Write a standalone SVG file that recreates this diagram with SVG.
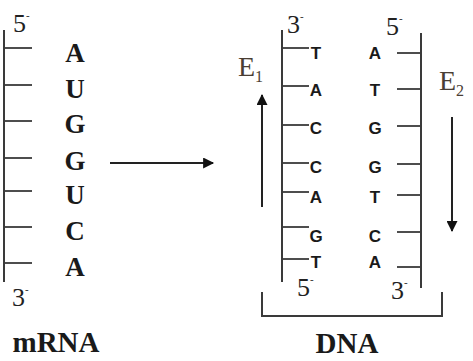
<svg xmlns="http://www.w3.org/2000/svg" width="473" height="361" viewBox="0 0 473 361">
<defs>
<style>
.ln{stroke:#3a3a3a;stroke-width:2;fill:none}
.tk{stroke:#3a3a3a;stroke-width:1.8}
.rna{font-family:"Liberation Serif",serif;font-weight:bold;font-size:27px;fill:#1a1a1a;text-anchor:middle}
.dna{font-family:"Liberation Sans",Arial,sans-serif;font-weight:bold;font-size:17px;fill:#1a1a1a;text-anchor:middle}
.end{font-family:"Liberation Serif",serif;font-size:26px;fill:#222}
.sup{font-size:11px}
.lab{font-family:"Liberation Serif",serif;font-weight:bold;font-size:29px;fill:#1a1a1a;text-anchor:middle}
.e{font-family:"Liberation Serif",serif;font-size:28px;fill:#4a3e34}
.sub{font-size:16px}
</style>
<marker id="ah" viewBox="0 0 10 10" refX="9" refY="5" markerWidth="13" markerHeight="11" markerUnits="userSpaceOnUse" orient="auto">
<path d="M0,0 L10,5 L0,10 z" fill="#111"/>
</marker>
</defs>

<g id="mrna">
<line class="ln" x1="4" y1="30" x2="4" y2="282"/>
<g class="tk">
<line x1="4" y1="48" x2="32" y2="48"/>
<line x1="4" y1="85" x2="32" y2="85"/>
<line x1="4" y1="121" x2="32" y2="121"/>
<line x1="4" y1="158" x2="32" y2="158"/>
<line x1="4" y1="191" x2="32" y2="191"/>
<line x1="4" y1="227" x2="32" y2="227"/>
<line x1="4" y1="263" x2="32" y2="263"/>
</g>
<text class="rna" x="75" y="62">A</text>
<text class="rna" x="75" y="98">U</text>
<text class="rna" x="75" y="133">G</text>
<text class="rna" x="75" y="170">G</text>
<text class="rna" x="75" y="204">U</text>
<text class="rna" x="75" y="240">C</text>
<text class="rna" x="75" y="276">A</text>
<text class="end" x="13" y="32">5<tspan class="sup" dy="-13">-</tspan></text>
<text class="end" x="12" y="306">3<tspan class="sup" dy="-13">-</tspan></text>
<text class="lab" x="56" y="352">mRNA</text>
</g>

<g id="dna">
<line class="ln" x1="282" y1="30" x2="282" y2="282"/>
<line class="ln" x1="421" y1="33" x2="421" y2="288"/>
<g class="tk">
<line x1="282" y1="48" x2="309" y2="48"/>
<line x1="282" y1="86" x2="309" y2="86"/>
<line x1="282" y1="125" x2="309" y2="125"/>
<line x1="282" y1="163" x2="309" y2="163"/>
<line x1="282" y1="192" x2="309" y2="192"/>
<line x1="282" y1="227" x2="309" y2="227"/>
<line x1="282" y1="259" x2="309" y2="259"/>
<line x1="397" y1="53" x2="421" y2="53"/>
<line x1="397" y1="89" x2="421" y2="89"/>
<line x1="397" y1="126" x2="421" y2="126"/>
<line x1="397" y1="164" x2="421" y2="164"/>
<line x1="397" y1="195" x2="421" y2="195"/>
<line x1="397" y1="232" x2="421" y2="232"/>
<line x1="397" y1="267" x2="421" y2="267"/>
</g>
<text class="dna" x="316" y="59">T</text>
<text class="dna" x="316" y="96">A</text>
<text class="dna" x="316" y="134">C</text>
<text class="dna" x="316" y="173">C</text>
<text class="dna" x="316" y="203">A</text>
<text class="dna" x="316" y="242">G</text>
<text class="dna" x="316" y="268">T</text>
<text class="dna" x="375" y="59">A</text>
<text class="dna" x="375" y="96">T</text>
<text class="dna" x="375" y="134">G</text>
<text class="dna" x="375" y="173">G</text>
<text class="dna" x="375" y="203">T</text>
<text class="dna" x="375" y="242">C</text>
<text class="dna" x="375" y="268">A</text>
<text class="end" x="287" y="33">3<tspan class="sup" dy="-13">-</tspan></text>
<text class="end" x="386" y="35">5<tspan class="sup" dy="-13">-</tspan></text>
<text class="end" x="297" y="296">5<tspan class="sup" dy="-13">-</tspan></text>
<text class="end" x="391" y="299">3<tspan class="sup" dy="-13">-</tspan></text>
<path class="ln" d="M262,292 V316 H442 V292"/>
<text class="lab" x="347" y="353">DNA</text>
</g>

<g id="e1">
<text class="e" x="238" y="76">E<tspan class="sub" dy="6">1</tspan></text>
</g>
<g id="e2">
<text class="e" x="439" y="90">E<tspan class="sub" dy="6">2</tspan></text>
</g>

<g id="connectors">
<line x1="110" y1="163" x2="213" y2="163" stroke="#222" stroke-width="2" marker-end="url(#ah)"/>
<line x1="262" y1="207" x2="262" y2="95" stroke="#222" stroke-width="2" marker-end="url(#ah)"/>
<line x1="452" y1="117" x2="452" y2="231" stroke="#222" stroke-width="2" marker-end="url(#ah)"/>
</g>
</svg>
